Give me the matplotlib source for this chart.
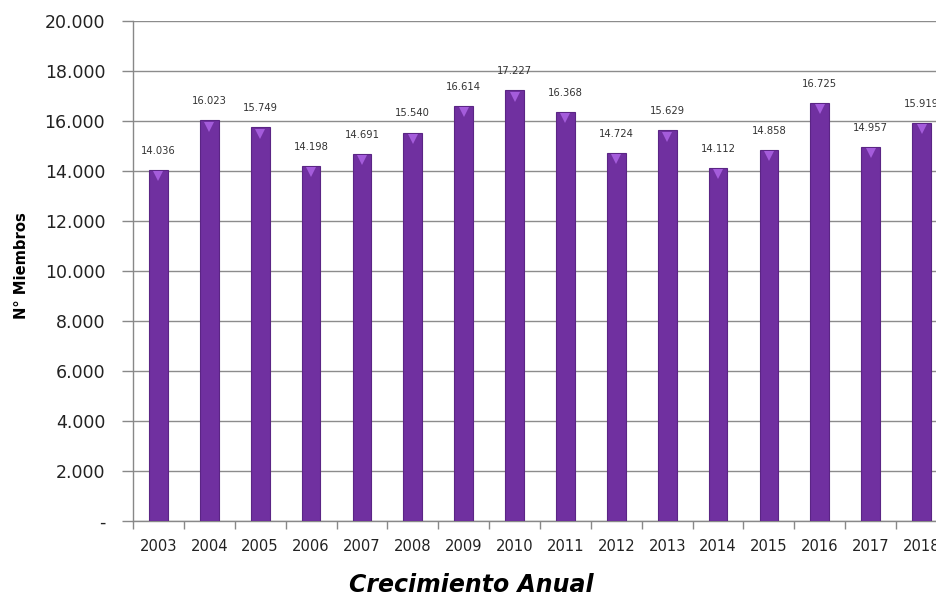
import matplotlib
matplotlib.use('Agg')
import matplotlib.pyplot as plt
from matplotlib.ticker import FuncFormatter

plt.rcParams['font.family'] = ['DejaVu Sans']

years = ['2003', '2004', '2005', '2006', '2007', '2008', '2009', '2010',
         '2011', '2012', '2013', '2014', '2015', '2016', '2017', '2018']
miembros = [14036, 16023, 15749, 14198, 14691, 15540, 16614, 17227,
            16368, 14724, 15629, 14112, 14858, 16725, 14957, 15919]


def miles(v, pos=None):
    if v == 0:
        return '-'
    return f'{v:,.0f}'.replace(',', '.')


fig = plt.figure(figsize=(9.37, 5.96), dpi=100)
# el gráfico original está recortado por la derecha
ax = fig.add_axes([133 / 937, 75 / 596, 814 / 937, 500 / 596])

x = range(len(years))
ax.bar(x, miembros, width=0.37, color='#7030A0', edgecolor='#5B2585',
       linewidth=0.8, zorder=3)
# tapa superior más clara
ax.plot(x, [v - 250 for v in miembros], linestyle='none', marker='v',
        markersize=7, color='#A45CDB', markeredgewidth=0, zorder=4)

for i, v in enumerate(miembros):
    ax.text(i, v + 560, miles(v), ha='center', va='bottom', fontsize=7.2,
            color='#333333', zorder=5)

ax.set_xlim(-0.5, len(years) - 0.5)
ax.set_ylim(0, 20000)
ax.set_yticks(range(0, 20001, 2000))
ax.yaxis.set_major_formatter(FuncFormatter(miles))
ax.set_xticks(list(x))
ax.set_xticklabels(years)
ax.set_xticks([i - 0.5 for i in range(len(years) + 1)], minor=True)
ax.tick_params(axis='x', which='major', length=0, pad=13, labelsize=10.6,
               colors='#222222')
ax.tick_params(axis='x', which='minor', length=6, width=1, color='#888888',
               direction='out')
ax.tick_params(axis='y', length=8, width=1, color='#888888', pad=12,
               labelsize=12.5, labelcolor='#222222')

ax.grid(axis='y', color='#8c8c8c', linewidth=1, zorder=0)
for s in ['top', 'right']:
    ax.spines[s].set_visible(False)
for s in ['left', 'bottom']:
    ax.spines[s].set_color('#888888')
    ax.spines[s].set_linewidth(1)

fig.text(22 / 937, 1 - 266 / 596, 'N° Miembros', rotation=90, ha='center',
         va='center', fontsize=10.6, fontweight='bold')
fig.text(471 / 937, 1 - 592 / 596, 'Crecimiento Anual', ha='center',
         va='baseline', fontsize=17, fontweight='bold', fontstyle='italic')

fig.savefig('out.png', dpi=100)
